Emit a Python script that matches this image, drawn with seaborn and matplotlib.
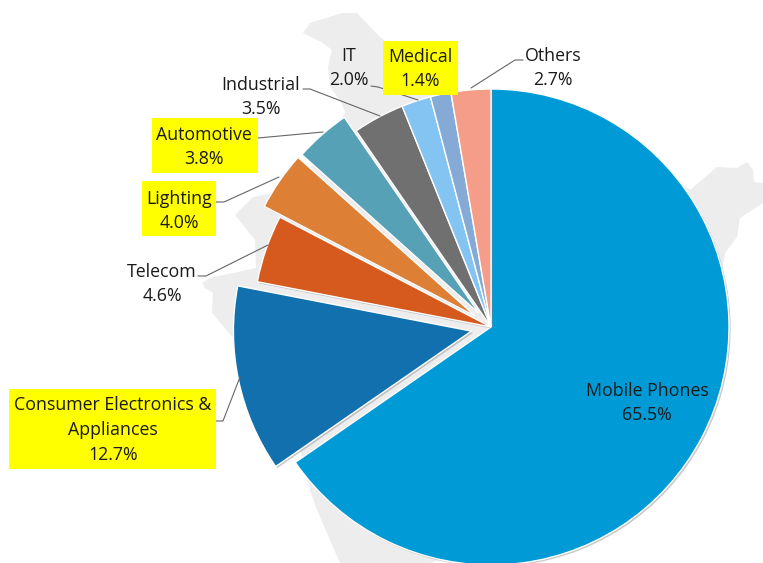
import matplotlib
matplotlib.use('Agg')
import matplotlib.pyplot as plt
import matplotlib.patheffects as pe
from matplotlib.patches import Polygon
import seaborn as sns

# values
sectors = ['Mobile Phones', 'Consumer Electronics &\nAppliances', 'Telecom', 'Lighting',
           'Automotive', 'Industrial', 'IT', 'Medical', 'Others']
shares = [65.5, 12.7, 4.6, 4.0, 3.8, 3.5, 2.0, 1.4, 2.7]
pct_labels = ['65.5%', '12.7%', '4.6%', '4.0%', '3.8%', '3.5%', '2.0%', '1.4%', '2.7%']
colors = ['#009BD6', '#1270AE', '#D65A1E', '#DD8035', '#57A1B6', '#707070', '#83C4F2', '#84AAD5', '#F59D88']
explode_px = [0, 20, 0, 19, 18, 0, 0, 0, 0]
highlighted = [False, True, False, True, True, False, False, True, False]

sns.set_theme(style='white')
plt.rcParams['font.family'] = ['Open Sans', 'DejaVu Sans']

W, H = 763, 563
fig = plt.figure(figsize=(W / 100, H / 100), dpi=100)
ax = fig.add_axes([0, 0, 1, 1])

# faint map outline behind the pie, pixel coordinates
india = [(303, 33), (310, 23), (342, 13), (357, 13), (380, 37), (410, 60), (440, 90), (600, 120),
         (690, 190), (717, 167), (737, 168), (747, 162), (753, 170), (754, 182), (763, 183),
         (763, 203), (740, 218), (737, 237), (725, 253), (700, 400), (500, 540), (430, 563),
         (340, 563), (317, 510), (310, 490), (300, 450), (235, 340), (212, 313), (213, 293),
         (205, 288), (202, 283), (210, 278), (256, 268), (255, 240), (247, 230), (235, 215),
         (253, 197), (263, 195), (285, 190), (330, 150), (345, 112), (340, 100), (330, 87),
         (328, 67), (332, 50), (323, 43)]
ax.add_patch(Polygon([(x, -y) for x, y in india], closed=True, fc='#EDEDED', ec='none', zorder=0))

cx, cy, R = 491, 327, 238
# pie() takes the explode offset in data units, not as a share of the radius
wedges, _ = ax.pie(shares, colors=sns.color_palette(colors), startangle=90, counterclock=False,
                   center=(cx, -cy), radius=R, explode=explode_px,
                   wedgeprops=dict(edgecolor='white', linewidth=1.0), frame=False)
ax.set_xlim(0, W)
ax.set_ylim(-H, 0)
ax.set_aspect('auto')
ax.axis('off')
for w in wedges:
    w.set_zorder(2)
    w.set_path_effects([pe.SimplePatchShadow(offset=(1.2, -1.2), shadow_rgbFace='#888888', alpha=0.45), pe.Normal()])

# label centres and leader lines in pixels
label_pos = [(647, 403), (113, 430), (162, 284), (179, 211), (204, 147), (261, 97), (349, 68), (420, 69), (553, 68)]
leaders = [None,
           [(216, 421), (223, 421), (240, 377)],
           [(198, 276), (206, 276), (268, 245)],
           [(216, 202), (224, 202), (279, 177)],
           [(258, 138), (323, 132)],
           [(303, 89), (310, 89), (380, 116)],
           [(371, 86), (378, 87), (418, 100)],
           None,
           [(523, 60), (515, 60), (471, 88)]]
boxes = [None, (9, 389, 216, 469), None, (142, 181, 216, 236), (152, 118, 258, 173), None, None, (383, 41, 458, 95), None]

for i, name in enumerate(sectors):
    if leaders[i] is not None:
        ax.plot([p[0] for p in leaders[i]], [-p[1] for p in leaders[i]], color='#666666', lw=0.8, zorder=3)
    if highlighted[i]:
        x0, y0, x1, y1 = boxes[i]
        ax.fill([x0, x1, x1, x0], [-y0, -y0, -y1, -y1], color='#FFFF00', lw=0, zorder=4)
    ax.text(label_pos[i][0], -label_pos[i][1], name + '\n' + pct_labels[i], ha='center', va='center',
            fontsize=12.8, color='#1a1a1a', linespacing=1.47, zorder=5)

fig.savefig('out.png', dpi=100)
